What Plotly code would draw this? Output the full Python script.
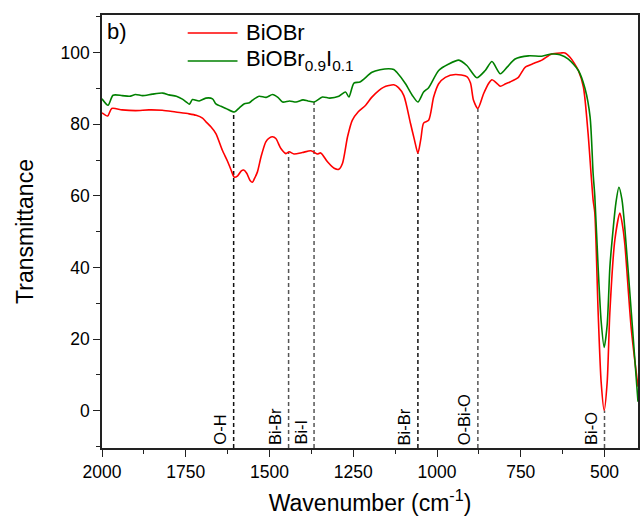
import plotly.graph_objects as go

# ---- data ----
red_wn = [2000, 1983, 1971, 1940, 1900, 1860, 1820, 1780, 1740, 1719, 1700, 1689, 1675, 1660, 1641,
          1625, 1615, 1605, 1595, 1584, 1577, 1568, 1558, 1551, 1545, 1536, 1525, 1511, 1500, 1491,
          1481, 1466, 1451, 1441, 1427, 1402, 1377, 1367, 1357, 1347, 1327, 1307, 1293, 1282, 1267,
          1253, 1235, 1213, 1195, 1174, 1160, 1144, 1129, 1115, 1099, 1079, 1067, 1057, 1048, 1040,
          1025, 1010, 995, 975, 945, 911, 900, 891, 878, 861, 845, 836, 822, 811, 795, 782, 757, 737,
          710, 687, 658, 630, 618, 603, 590, 578, 563, 549, 540, 534, 529, 519, 510, 501, 492, 484,
          469, 454, 445, 439, 420, 400]
red_t = [83.2, 82.3, 84.4, 84.0, 83.8, 84.0, 83.9, 83.4, 82.9, 82.5, 81.7, 80.6, 79.3, 77.4, 72.8,
         69.6, 67.3, 65.2, 65.6, 67.0, 67.2, 66.3, 64.3, 63.8, 64.8, 66.7, 71.0, 75.1, 76.2, 76.5,
         76.0, 73.2, 71.8, 72.3, 71.7, 72.1, 72.6, 72.2, 71.7, 72.0, 69.5, 67.7, 67.4, 69.1, 76.5,
         81.1, 83.5, 85.3, 87.5, 89.4, 90.3, 90.8, 91.0, 90.2, 88.0, 80.2, 75.5, 71.9, 76.0, 80.3,
         81.1, 87.6, 91.3, 93.1, 93.9, 93.3, 91.5, 86.7, 84.4, 88.5, 91.5, 92.4, 91.5, 90.6, 91.3,
         91.8, 93.1, 95.9, 97.0, 97.9, 99.6, 99.9, 99.9, 98.7, 97.0, 95.0, 90.4, 77.4, 66.0, 58.9,
         55.3, 27.5, 8.0, 0.1, 8.0, 27.5, 47.8, 55.2, 51.0, 46.2, 22.8, 6.7]

green_wn = [2000, 1982, 1967, 1940, 1918, 1900, 1879, 1850, 1819, 1800, 1778, 1760, 1748, 1739, 1730,
            1710, 1690, 1670, 1660, 1645, 1630, 1605, 1590, 1575, 1560, 1551, 1531, 1510, 1491, 1475,
            1461, 1440, 1421, 1400, 1385, 1367, 1342, 1320, 1293, 1273, 1263, 1248, 1230, 1194, 1170,
            1144, 1129, 1120, 1094, 1074, 1057, 1040, 1025, 995, 965, 935, 911, 881, 856, 836, 811,
            790, 767, 727, 687, 658, 633, 608, 578, 558, 543, 534, 529, 519, 510, 501, 492, 484, 479,
            466, 457, 448, 439, 420, 400]
green_t = [87.1, 85.3, 88.1, 88.0, 87.8, 88.3, 88.0, 88.4, 88.7, 88.2, 87.8, 87.0, 86.2, 85.6, 86.9,
           86.5, 87.3, 87.1, 85.7, 85.0, 84.4, 83.4, 84.6, 85.7, 86.0, 86.7, 87.8, 87.5, 88.3, 87.5,
           86.2, 86.5, 86.2, 86.8, 86.5, 86.2, 87.6, 87.3, 87.8, 89.0, 87.6, 91.5, 91.8, 94.5, 95.2,
           95.5, 95.3, 94.5, 91.3, 88.1, 86.2, 89.0, 90.2, 95.0, 96.8, 97.9, 96.4, 93.0, 95.0, 97.5,
           94.1, 96.0, 98.2, 99.1, 99.0, 99.6, 99.4, 98.2, 95.0, 89.9, 82.0, 66.3, 60.0, 40.0, 25.0,
           17.7, 24.0, 40.0, 45.9, 58.0, 62.4, 59.0, 50.6, 27.5, 2.5]

band_wn = [1607, 1443, 1367, 1057, 878, 500]
band_top = [83.4, 72.3, 86.2, 71.9, 84.4, 0.1]
band_labels = ["O-H", "Bi-Br", "Bi-I", "Bi-Br", "O-Bi-O", "Bi-O"]
band_colors = ["#111111", "#555555", "#555555", "#111111", "#555555", "#555555"]

series_names = ["BiOBr", "BiOBr<sub>0.9</sub>I<sub>0.1</sub>"]
series_colors = ["#ff0000", "#008000"]

Y_MIN, Y_MAX = -10.4, 110.5
X_RANGE = [2000, 400]
FONT = "Arial, Liberation Sans, sans-serif"

fig = go.Figure()

# dashed band markers
for wn, top, col in zip(band_wn, band_top, band_colors):
    fig.add_trace(go.Scatter(x=[wn, wn], y=[Y_MIN, top], mode="lines",
                             line=dict(color=col, width=1.5, dash="4px,3px"),
                             showlegend=False, hoverinfo="skip"))

for wn, lab in zip(band_wn, band_labels):
    fig.add_annotation(x=wn, y=Y_MIN, xref="x", yref="y", text=lab, textangle=-90,
                       showarrow=False, xanchor="right", yanchor="bottom",
                       xshift=-3, yshift=1,
                       font=dict(family=FONT, size=16.5, color="#000"))

fig.add_trace(go.Scatter(x=red_wn, y=red_t, mode="lines", name=series_names[0],
                         line=dict(color=series_colors[0], width=1.6, shape="spline", smoothing=0.7),
                         showlegend=False))
fig.add_trace(go.Scatter(x=green_wn, y=green_t, mode="lines", name=series_names[1],
                         line=dict(color=series_colors[1], width=1.6, shape="spline", smoothing=0.7),
                         showlegend=False))

# manual legend (line samples + labels) in paper coords
leg_y = [0.9584, 0.8938]
for name, col, yy in zip(series_names, series_colors, leg_y):
    fig.add_shape(type="line", xref="paper", yref="paper", x0=0.1599, x1=0.2528, y0=yy, y1=yy,
                  line=dict(color=col, width=1.6))
    fig.add_annotation(x=0.2658, y=yy, xref="paper", yref="paper", text=name, showarrow=False,
                       xanchor="left", yanchor="middle", yshift=1,
                       font=dict(family=FONT, size=22, color="#000"))

fig.add_annotation(x=0.005, y=0.962, xref="paper", yref="paper", text="b)", showarrow=False,
                   xanchor="left", yanchor="middle", font=dict(family=FONT, size=22, color="#000"))

axis_common = dict(showline=True, linecolor="#222", linewidth=1.5, mirror=True, showgrid=False,
                   zeroline=False, ticks="outside", ticklen=7, tickwidth=1.3, tickcolor="#222",
                   tickfont=dict(family=FONT, size=17.5, color="#000"))

fig.update_xaxes(range=X_RANGE, tick0=0, dtick=250,
                 minor=dict(ticks="outside", ticklen=4, dtick=125, tick0=0, tickcolor="#222", tickwidth=1.3),
                 title=dict(text="Wavenumber (cm<sup>-1</sup>)", font=dict(family=FONT, size=23, color="#000"),
                            standoff=14),
                 **axis_common)
fig.update_yaxes(range=[Y_MIN, Y_MAX], tick0=0, dtick=20,
                 minor=dict(ticks="outside", ticklen=4, dtick=10, tick0=0, tickcolor="#222", tickwidth=1.3),
                 title=dict(text="Transmittance", font=dict(family=FONT, size=23, color="#000"),
                            standoff=20),
                 **axis_common)

fig.update_layout(width=641, height=522, margin=dict(l=102, r=1, t=15, b=74),
                  paper_bgcolor="white", plot_bgcolor="white",
                  font=dict(family=FONT, color="#000"))

fig.write_html("out.html")
